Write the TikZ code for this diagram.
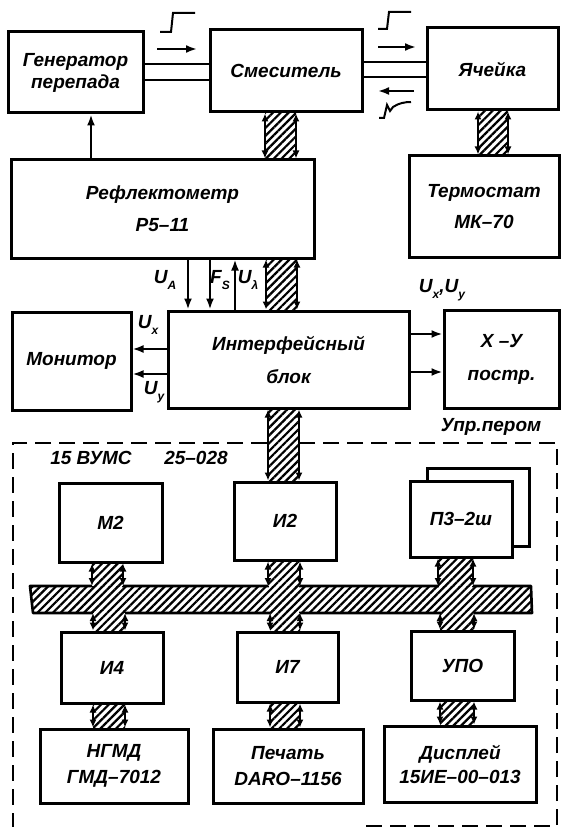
\documentclass[tikz,border=0pt]{standalone}
\usepackage{fontspec}
\setmainfont{Liberation Sans}
\usetikzlibrary{arrows.meta,patterns.meta}
\newcommand\lbl{\bfseries\itshape\fontsize{19}{23}\selectfont}
\newcommand\subl[1]{\raisebox{-6pt}{\fontsize{12}{12}\selectfont #1}}
\newcommand\hband[4]{%
  \fill[white] (#1,0 |- #3) rectangle (#2,0 |- #4);
  \fill[hatch] (#1,0 |- #3) rectangle (#2,0 |- #4);
  \draw[bandarr] (#1,0 |- #3) -- (#1,0 |- #4);
  \draw[bandarr] (#2,0 |- #3) -- (#2,0 |- #4);}
\newcommand\bpatch[3]{%
  \fill[white] (#1+1.2,#3-2.5) rectangle (#2-1.2,#3+2.5);
  \fill[hatch] (#1+1.2,#3-2.5) rectangle (#2-1.2,#3+2.5);}
\begin{document}
\begin{tikzpicture}[x=1pt,y=-1pt,
  box/.style={draw,line width=3pt,inner sep=0pt,align=center,font=\lbl,fill=white},
  hatch/.style={pattern={Lines[angle=45,distance=5.5pt,line width=2.2pt]}},
  bandarr/.style={line width=2.2pt,{Latex[length=8pt,width=7pt]}-{Latex[length=8pt,width=7pt]}},
  sig/.style={line width=2.2pt,-{Latex[length=11pt,width=8pt]}},
  wire/.style={line width=2.2pt},
  lab/.style={font=\lbl,inner sep=0pt}]
\useasboundingbox (0,0) rectangle (562,829);

% dashed frame of the computer
\draw[line width=2.4pt,dash pattern=on 16pt off 8pt] (366,826) -- (557,826) -- (557,443) -- (13,443) -- (13,827);

% upper boxes
\node[box,minimum width=135pt,minimum height=81pt] (gen) at (75.5,72.5) {Генератор\\[-1pt]перепада};
\node[box,minimum width=152pt,minimum height=82pt] (smes) at (286,71) {Смеситель};
\node[box,minimum width=131pt,minimum height=82pt] (yach) at (492.5,69) {Ячейка};
\node[box,minimum width=303pt,minimum height=98pt] (refl) at (162.5,209) {Рефлектометр\\[9pt]Р5–11};
\node[box,minimum width=150pt,minimum height=101pt] (term) at (484,206.5) {Термостат\\[8pt]МК–70};
\node[box,minimum width=241pt,minimum height=97pt] (intf) at (288.5,359.5) {Интерфейсный\\[10pt]блок};
\node[box,minimum width=119pt,minimum height=98pt] (mon) at (71.5,361) {Монитор};
\node[box,minimum width=115pt,minimum height=98pt] (xy) at (501.5,359) {X –У\\[10pt]постр.};

% computer boxes
\node[box,minimum width=103pt,minimum height=79pt] (m2) at (110.5,522.5) {М2};
\node[box,minimum width=102pt,minimum height=78pt] (i2) at (285,521) {И2};
\node[box,minimum width=102pt,minimum height=78pt] (p3s) at (478,507) {};
\node[box,minimum width=102pt,minimum height=76pt] (p3) at (461,519) {П3–2ш};
\node[box,minimum width=102pt,minimum height=71pt] (i4) at (112,667.5) {И4};
\node[box,minimum width=101pt,minimum height=70pt] (i7) at (287.5,667) {И7};
\node[box,minimum width=103pt,minimum height=69pt] (upo) at (462.5,665.5) {УПО};
\node[box,minimum width=148pt,minimum height=74pt] (ngmd) at (114,766) {НГМД\\[3pt]ГМД–7012};
\node[box,minimum width=150pt,minimum height=74pt] (pech) at (288,766) {Печать\\[3pt]DARO–1156};
\node[box,minimum width=152pt,minimum height=76pt] (disp) at (460,764) {Дисплей\\[1pt]15ИЕ–00–013};

% coaxial double lines
\draw[wire] (gen.east |- 0,64) -- (smes.west |- 0,64);
\draw[wire] (gen.east |- 0,80) -- (smes.west |- 0,80);
\draw[wire] (smes.east |- 0,62) -- (yach.west |- 0,62);
\draw[wire] (smes.east |- 0,77) -- (yach.west |- 0,77);

% direction arrows and pulse shapes
\coordinate (a1s) at (157,49); \coordinate (a1e) at (197,49);
\draw[sig] (a1s) -- (a1e);
\coordinate (a2s) at (378,47); \coordinate (a2e) at (416,47);
\draw[sig] (a2s) -- (a2e);
\coordinate (a3s) at (414,91); \coordinate (a3e) at (378,91);
\draw[sig] (a3s) -- (a3e);
\draw[line width=2pt] (160,32) -- (171,32) -- (173,13) -- (195,13);
\draw[line width=2pt] (378,29) -- (387,29) -- (389,12) -- (411,12);
\draw[line width=2pt] (379,118) -- (384,118) -- (387,105) -- (390,111) -- (393,107) .. controls (399,103) and (405,102) .. (411,102);

% thin signal lines
\draw[sig] (91,0 |- refl.north) -- (91,0 |- gen.south);
\draw[sig] (188,0 |- refl.south) -- (188,0 |- intf.north);
\draw[sig] (210,0 |- refl.south) -- (210,0 |- intf.north);
\draw[sig] (235,0 |- intf.north) -- (235,0 |- refl.south);
\draw[sig] (intf.west |- 0,349) -- (mon.east |- 0,349);
\draw[sig] (intf.west |- 0,374) -- (mon.east |- 0,374);
\draw[sig] (intf.east |- 0,334) -- (xy.west |- 0,334);
\draw[sig] (intf.east |- 0,372) -- (xy.west |- 0,372);

% hatched data paths
\hband{265}{296}{smes.south}{refl.north}
\hband{478}{508}{yach.south}{term.north}
\hband{266}{297}{refl.south}{intf.north}
\hband{268}{299}{intf.south}{i2.north}

% bus
\coordinate (bustop) at (0,586);
\coordinate (busbot) at (0,613);
\fill[white] (30,586) -- (531,586) -- (532,613) -- (33,613) -- cycle;
\fill[hatch] (30,586) -- (531,586) -- (532,613) -- (33,613) -- cycle;
\draw[line width=2.6pt,line join=round] (30,586) -- (531,586) -- (532,613) -- (33,613) -- cycle;
\bpatch{92}{123}{586}
\bpatch{268}{300}{586}
\bpatch{438}{473}{586}
\bpatch{93}{125}{613}
\bpatch{270}{300}{613}
\bpatch{440}{474}{613}
\hband{92}{123}{m2.south}{bustop}
\hband{268}{300}{i2.south}{bustop}
\hband{438}{473}{p3.south}{bustop}
\hband{93}{125}{busbot}{i4.north}
\hband{270}{300}{busbot}{i7.north}
\hband{440}{474}{busbot}{upo.north}
\hband{93}{125}{i4.south}{ngmd.north}
\hband{270}{300}{i7.south}{pech.north}
\hband{440}{474}{upo.south}{disp.north}

% labels
\node[lab] (lua) at (165,280) {U\subl{A}};
\node[lab] (lfs) at (220,280) {F\subl{S}};
\node[lab] (lul) at (248,280) {U\subl{λ}};
\node[lab] (luxy) at (442,290) {U\subl{x},U\subl{y}};
\node[lab] (lux) at (148,325) {U\subl{x}};
\node[lab] (luy) at (154,392) {U\subl{y}};
\node[lab] (lupr) at (491,427) {Упр.пером};
\node[lab] (lvums) at (91,458) {15 ВУМС};
\node[lab] (lnum) at (196,458) {25–028};
\end{tikzpicture}
\end{document}
